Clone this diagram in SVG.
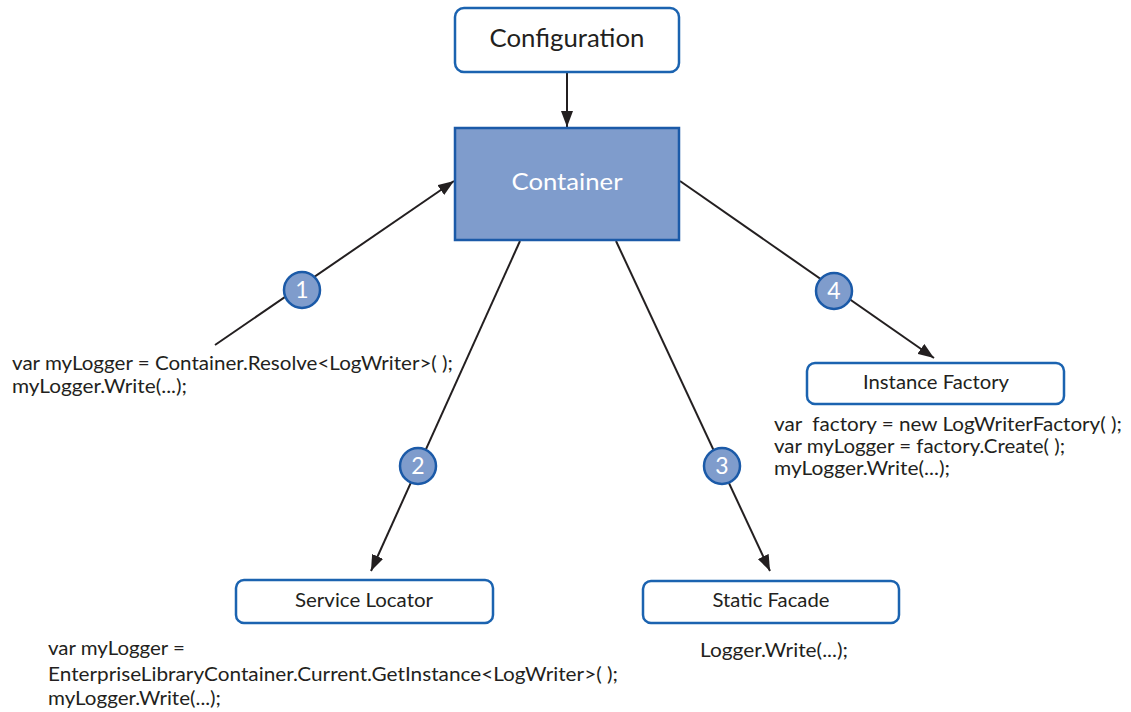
<svg xmlns="http://www.w3.org/2000/svg" width="1131" height="712" viewBox="0 0 1131 712">
  <style>
    .box { fill: #ffffff; stroke: #1b63b0; stroke-width: 2.5; }
    .core { fill: #7f9ccc; stroke: #1b5aa8; stroke-width: 2.5; }
    .lbl { font-family: Lato, "Open Sans", sans-serif; fill: #231f20; text-anchor: middle; font-size: 18.5px; }
    .code { font-family: Lato, "Open Sans", sans-serif; fill: #231f20; font-size: 19.5px; }
    .edge { stroke: #231f20; stroke-width: 2; fill: none; marker-end: url(#arrow); }
    .badge { fill: #7f9ccc; stroke: #1b5aa8; stroke-width: 2.5; }
    .num { font-family: Lato, "Open Sans", sans-serif; fill: #ffffff; font-size: 23px; text-anchor: middle; }
  </style>
  <defs>
    <marker id="arrow" viewBox="0 0 16 12" refX="16" refY="6" markerWidth="16" markerHeight="12" markerUnits="userSpaceOnUse" orient="auto">
      <path d="M0,0 L16,6 L0,12 z" fill="#231f20"/>
    </marker>
  </defs>

  <g id="connectors">
    <line class="edge" x1="567" y1="73" x2="567" y2="127"/>
    <line class="edge" x1="215" y1="345" x2="454" y2="181"/>
    <line class="edge" x1="520" y1="241" x2="371" y2="571"/>
    <line class="edge" x1="616" y1="241" x2="770" y2="571"/>
    <line class="edge" x1="680" y1="181" x2="934" y2="358"/>
  </g>

  <g id="configuration">
    <rect class="box" x="455" y="8" width="224" height="64" rx="9"/>
    <text class="lbl" x="567" y="47" style="font-size:25px" textLength="155" lengthAdjust="spacingAndGlyphs">Configuration</text>
  </g>

  <g id="container">
    <rect class="core" x="455" y="128" width="224" height="112"/>
    <text class="lbl" x="567" y="190" style="font-size:24px;fill:#ffffff" textLength="111" lengthAdjust="spacingAndGlyphs">Container</text>
  </g>

  <g id="badge-1">
    <circle class="badge" cx="302" cy="290" r="18"/>
    <text class="num" x="302" y="298">1</text>
  </g>
  <g id="badge-2">
    <circle class="badge" cx="418" cy="466" r="18"/>
    <text class="num" x="418" y="474">2</text>
  </g>
  <g id="badge-3">
    <circle class="badge" cx="722" cy="466" r="18"/>
    <text class="num" x="722" y="474">3</text>
  </g>
  <g id="badge-4">
    <circle class="badge" cx="834" cy="291" r="18"/>
    <text class="num" x="834" y="299">4</text>
  </g>

  <g id="resolve-code">
    <text class="code" x="12" y="370" textLength="441" lengthAdjust="spacingAndGlyphs">var myLogger = Container.Resolve&lt;LogWriter&gt;( );</text>
    <text class="code" x="12" y="393" textLength="175" lengthAdjust="spacingAndGlyphs">myLogger.Write(...);</text>
  </g>

  <g id="instance-factory">
    <rect class="box" x="807" y="363" width="257" height="41" rx="8"/>
    <text class="lbl" x="936" y="389" textLength="146" lengthAdjust="spacingAndGlyphs">Instance Factory</text>
    <text class="code" x="774" y="431" xml:space="preserve" textLength="348" lengthAdjust="spacingAndGlyphs">var  factory = new LogWriterFactory( );</text>
    <text class="code" x="774" y="453" textLength="291" lengthAdjust="spacingAndGlyphs">var myLogger = factory.Create( );</text>
    <text class="code" x="774" y="475" textLength="176" lengthAdjust="spacingAndGlyphs">myLogger.Write(...);</text>
  </g>

  <g id="service-locator">
    <rect class="box" x="236" y="580" width="257" height="43" rx="8"/>
    <text class="lbl" x="364" y="607" textLength="138" lengthAdjust="spacingAndGlyphs">Service Locator</text>
    <text class="code" x="48" y="655" textLength="137" lengthAdjust="spacingAndGlyphs">var myLogger =</text>
    <text class="code" x="48" y="681" textLength="570" lengthAdjust="spacingAndGlyphs">EnterpriseLibraryContainer.Current.GetInstance&lt;LogWriter&gt;( );</text>
    <text class="code" x="48" y="705" textLength="173" lengthAdjust="spacingAndGlyphs">myLogger.Write(...);</text>
  </g>

  <g id="static-facade">
    <rect class="box" x="643" y="581" width="256" height="42" rx="8"/>
    <text class="lbl" x="771" y="607" textLength="117" lengthAdjust="spacingAndGlyphs">Static Facade</text>
    <text class="code" x="700" y="657" textLength="148" lengthAdjust="spacingAndGlyphs">Logger.Write(...);</text>
  </g>
</svg>
